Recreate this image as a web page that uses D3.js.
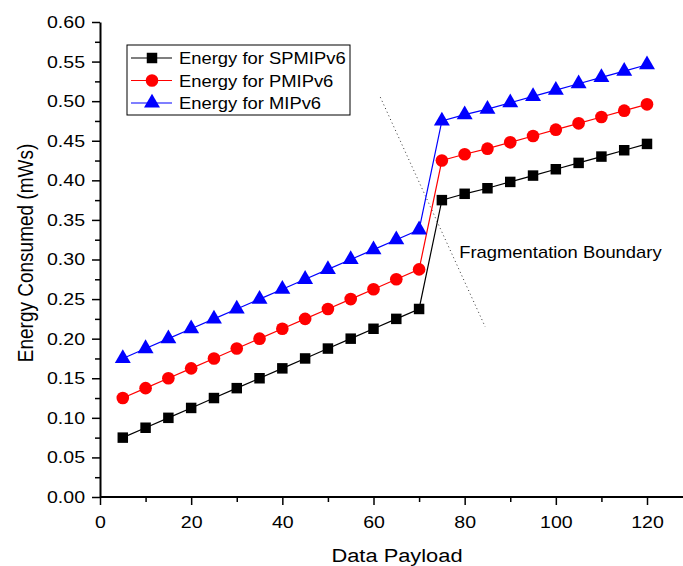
<!DOCTYPE html>
<html>
<head>
<meta charset="utf-8">
<script src="https://cdn.jsdelivr.net/npm/d3@7/dist/d3.min.js"></script>
<style>
  body { margin: 0; background: #fff; }
  svg { font-family: "Liberation Sans", Arial, sans-serif; }
</style>
</head>
<body>
<div id="chart"></div>
<script>
// payload sizes
var payload = [5, 10, 15, 20, 25, 30, 35, 40, 45, 50, 55, 60, 65, 70, 75, 80, 85, 90, 95, 100, 105, 110, 115, 120];
var spmipv6 = [0.075, 0.0875, 0.1, 0.1125, 0.125, 0.1375, 0.15, 0.1625, 0.175, 0.1875, 0.2, 0.2125, 0.225, 0.2375,
               0.375, 0.383, 0.390, 0.398, 0.406, 0.414, 0.422, 0.430, 0.438, 0.446];
var pmipv6 = [0.125, 0.1375, 0.15, 0.1625, 0.175, 0.1875, 0.2, 0.2125, 0.225, 0.2375, 0.25, 0.2625, 0.275, 0.2875,
              0.425, 0.433, 0.440, 0.448, 0.456, 0.464, 0.472, 0.480, 0.488, 0.496];
var mipv6 = [0.175, 0.1875, 0.2, 0.2125, 0.225, 0.2375, 0.25, 0.2625, 0.275, 0.2875, 0.3, 0.3125, 0.325, 0.3375,
             0.475, 0.483, 0.490, 0.498, 0.506, 0.514, 0.522, 0.530, 0.538, 0.546];
var seriesNames = ["Energy for SPMIPv6", "Energy for PMIPv6", "Energy for MIPv6"];
var xTicks = [0, 20, 40, 60, 80, 100, 120];
var yTicks = [0, 0.05, 0.1, 0.15, 0.2, 0.25, 0.3, 0.35, 0.4, 0.45, 0.5, 0.55, 0.6];
// dotted boundary line ends, in data units
var boundaryX = [61.5, 84.5];
var boundaryY = [0.505, 0.215];

var width = 683, height = 566;
var margin = {left: 100, top: 22, bottom: 69};
var sx = 1.15; // the original text looks stretched sideways

var svg = d3.select("#chart").append("svg").attr("width", width).attr("height", height);

var x = d3.scaleLinear().domain([0, 120]).range([margin.left, 647]);
var y = d3.scaleLinear().domain([0, 0.6]).range([height - margin.bottom, margin.top]);

// minor ticks
svg.append("g").attr("transform", "translate(0," + y(0) + ")")
  .call(d3.axisBottom(x).tickValues(d3.range(10, 140, 20)).tickSize(5).tickFormat(""))
  .call(function(g) { g.select(".domain").remove(); g.selectAll("line").attr("stroke-width", 1.5); });
svg.append("g").attr("transform", "translate(" + x(0) + ",0)")
  .call(d3.axisLeft(y).tickValues(d3.range(0.025, 0.6, 0.05)).tickSize(5).tickFormat(""))
  .call(function(g) { g.select(".domain").remove(); g.selectAll("line").attr("stroke-width", 1.5); });

var xAxis = svg.append("g").attr("transform", "translate(0," + y(0) + ")")
  .call(d3.axisBottom(x).tickValues(xTicks).tickSize(8).tickSizeOuter(0).tickPadding(11));
xAxis.select(".domain").attr("d", "M" + x(0) + ",0H" + width).attr("stroke-width", 2);
xAxis.selectAll("line").attr("stroke-width", 1.5);
xAxis.selectAll("text").attr("font-size", 17).attr("font-family", "Liberation Sans, Arial, sans-serif")
  .attr("fill", "#000").attr("transform", "scale(" + sx + ",1)");

var yAxis = svg.append("g").attr("transform", "translate(" + x(0) + ",0)")
  .call(d3.axisLeft(y).tickValues(yTicks).tickSize(8).tickSizeOuter(0).tickFormat(d3.format(".2f")));
yAxis.select(".domain").attr("stroke-width", 2);
yAxis.selectAll("line").attr("stroke-width", 1.5);
yAxis.selectAll("text").attr("font-size", 17).attr("font-family", "Liberation Sans, Arial, sans-serif")
  .attr("fill", "#000").attr("x", -15 / sx).attr("transform", "scale(" + sx + ",1)");

svg.append("text").attr("transform", "translate(397,562) scale(" + sx + ",1)").attr("text-anchor", "middle")
  .attr("font-size", 19).text("Data Payload");
svg.append("text").attr("transform", "translate(33,253) scale(" + sx + ",1) rotate(-90)").attr("text-anchor", "middle")
  .attr("font-size", 19).text("Energy Consumed (mWs)");

// boundary
svg.append("line")
  .attr("x1", x(boundaryX[0])).attr("y1", y(boundaryY[0]))
  .attr("x2", x(boundaryX[1])).attr("y2", y(boundaryY[1]))
  .attr("stroke", "#333").attr("stroke-width", 1).attr("stroke-dasharray", "1,3");
svg.append("text").attr("transform", "translate(" + x(78.8) + "," + y(0.302) + ") scale(" + sx + ",1)")
  .attr("font-size", 16).text("Fragmentation Boundary");

var series = [
  {name: seriesNames[0], values: spmipv6, color: "#000000", shape: d3.symbolSquare, size: 110},
  {name: seriesNames[1], values: pmipv6, color: "#ff0000", shape: d3.symbolCircle, size: 125},
  {name: seriesNames[2], values: mipv6, color: "#0000ff", shape: d3.symbolTriangle, size: 110}
];

var line = d3.line().x(function(d) { return x(d[0]); }).y(function(d) { return y(d[1]); });

series.forEach(function(s) {
  var pts = payload.map(function(p, i) { return [p, s.values[i]]; });
  svg.append("path").datum(pts).attr("d", line).attr("fill", "none").attr("stroke", s.color).attr("stroke-width", 1.2);
  svg.append("g").selectAll("path").data(pts).enter().append("path")
    .attr("transform", function(d) { return "translate(" + x(d[0]) + "," + y(d[1]) + ")"; })
    .attr("d", d3.symbol().type(s.shape).size(s.size))
    .attr("fill", s.color);
});

// legend
var legend = svg.append("g").attr("transform", "translate(127,45)");
legend.append("rect").attr("width", 223).attr("height", 70).attr("fill", "#fff").attr("stroke", "#000").attr("stroke-width", 1);
series.forEach(function(s, i) {
  var g = legend.append("g").attr("transform", "translate(0," + (13 + i * 22.5) + ")");
  g.append("line").attr("x1", 4).attr("x2", 45).attr("stroke", s.color).attr("stroke-width", 1.2);
  g.append("path").attr("transform", "translate(25,0)").attr("d", d3.symbol().type(s.shape).size(s.size)).attr("fill", s.color);
  g.append("text").attr("transform", "translate(52,6) scale(" + sx + ",1)").attr("font-size", 16).text(s.name);
});
</script>
</body>
</html>
